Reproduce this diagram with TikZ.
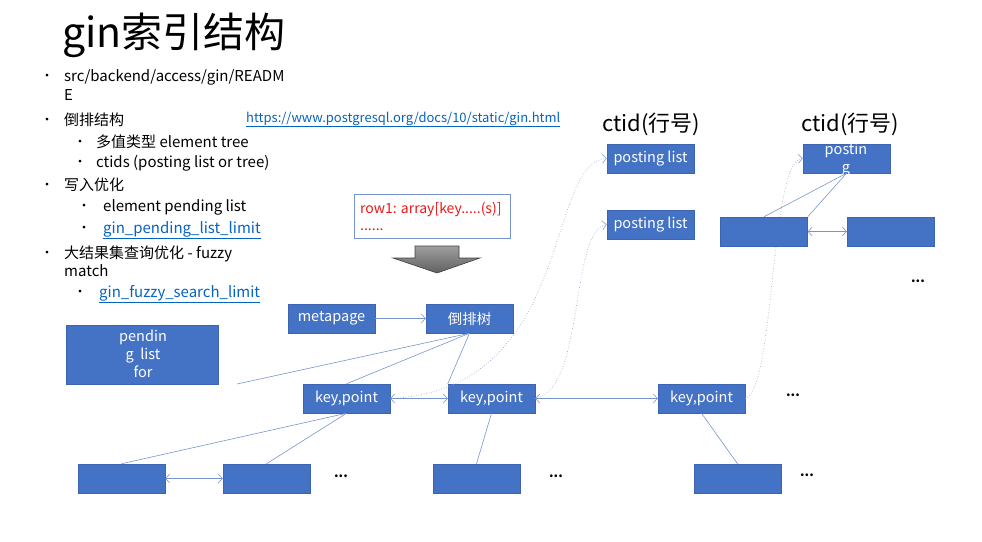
\documentclass[tikz,border=0pt]{standalone}
\usepackage{fontspec}
\setmainfont{Noto Sans CJK SC}
\usetikzlibrary{arrows.meta,positioning,calc}
\definecolor{boxblue}{RGB}{68,114,196}
\definecolor{boxedge}{RGB}{60,100,176}
\definecolor{lineblue}{RGB}{120,148,206}
\definecolor{dotblue}{RGB}{150,168,206}
\definecolor{linkblue}{RGB}{5,99,193}
\definecolor{rowred}{RGB}{235,25,25}
\newcommand{\lnk}[1]{\textcolor{linkblue}{\underline{#1}}}
\tikzset{
  flow/.style={line width=0.6pt,draw=lineblue,>={Straight Barb[length=4pt,width=9pt]}},
  blk/.style={draw=boxedge,fill=boxblue,text=white,minimum width=87pt,minimum height=29pt,
    inner sep=0pt,line width=0.5pt,font=\fontsize{14.5}{17}\selectfont},
  ref/.style={flow,dotted,draw=dotblue,line width=0.7pt},
  txt/.style={anchor=base west,inner sep=0pt,font=\fontsize{15}{18}\selectfont},
  bul/.style={inner sep=0pt,font=\fontsize{13}{14}\selectfont},
  etc/.style={inner sep=0pt,font=\fontsize{13}{14}\selectfont\bfseries},
  hdr/.style={inner sep=0pt,font=\fontsize{22}{24}\selectfont},
}

\begin{document}
\begin{tikzpicture}[x=1pt,y=-1pt]
\useasboundingbox (0,0) rectangle (982,541);
% title and notes
\node[anchor=west,inner sep=0pt,font=\fontsize{41}{44}\selectfont] (title) at (62,35) {gin索引结构};
\foreach \bx/\by/\nm in {47/77/u1,47/121/u2,80/143/u3,80/163/u4,47/186/u5,84/207/u6,84/229/u7,47/254/u8,80/293/u9}
  \node[bul] (\nm) at (\bx,\by) {•};
\node[txt] (t1) at (64,81) {src/backend/access/gin/READM};
\node[txt] (t1b) at (64,100) {E};
\node[txt] (t2) at (64,125) {倒排结构};
\node[txt] (t3) at (96,147) {多值类型 element tree};
\node[txt] (t4) at (96,167) {ctids (posting list or tree)};
\node[txt] (t5) at (64,190) {写入优化};
\node[txt] (t6) at (103,211) {element pending list};
\node[txt] (t7) at (103,233) {\lnk{gin\_pending\_list\_limit}};
\node[txt] (t8) at (64,258) {大结果集查询优化 - fuzzy};
\node[txt] (t9) at (64,276) {match};
\node[txt] (t10) at (99,297) {\lnk{gin\_fuzzy\_search\_limit}};
\node[txt,font=\fontsize{13}{16}\selectfont] (url) at (246,122) {\lnk{https://www.postgresql.org/docs/10/static/gin.html}};
% input row and arrow
\node[draw=lineblue,line width=0.6pt,fill=white,anchor=north west,minimum width=156pt,minimum height=44pt,inner sep=0pt] (rowbox) at (354,194) {};
\node[txt,text=rowred,font=\fontsize{14}{16}\selectfont] (row1) at (360,213) {row1: array[key.....(s)]};
\node[txt,text=rowred,font=\fontsize{14}{16}\selectfont] (row2) at (360,230) {......};
\shadedraw[top color=black!38,bottom color=black!62,draw=black!75,line width=0.6pt]
  (415,246) -- (459,246) -- (459,258) -- (480,258) -- (437,273) -- (393,258) -- (415,258) -- cycle;
% ctid side
\node[hdr] (ctid1) at (651,124) {ctid(行号)};
\node[hdr] (ctid2) at (850,124) {ctid(行号)};
\node[blk] (pl1) at (650.5,158.5) {posting list};
\node[blk] (pl2) at (650.5,224.5) {posting list};
\node[blk] (pl3) at (846.5,158.5) {};
\node[inner sep=0pt,align=center,text=white,font=\fontsize{14.5}{18}\selectfont] (pl3txt) at (846,160) {postin\\g};
% index tree
\node[blk] (meta) at (331.5,318.5) {metapage};
\node[blk] (tree) at (469.5,318.5) {倒排树};
\node[blk,minimum width=152pt,minimum height=59pt] (pend) at (142,354.5) {};
\node[inner sep=0pt,align=center,text=white,font=\fontsize{14.5}{18}\selectfont] (pendtxt) at (143,354) {pendin\\g\ \ list\\for};
\node[blk] (kp1) at (346.5,398.5) {key,point};
\node[blk] (kp2) at (491.5,398.5) {key,point};
\node[blk] (kp3) at (701.5,398.5) {key,point};
\coordinate (pendend) at (237,384);
% dotted ctid references (drawn under the boxes)
\draw[ref,->] (kp1.east) .. controls (575,390) and (545,162) .. (pl1.west);
\draw[ref,->] (kp2.east) .. controls (585,390) and (570,230) .. (pl2.west);
\draw[ref,->] (kp3.east) .. controls (775,390) and (770,160) .. (pl3.west);
\node[blk] (ba) at (764,231.5) {};
\node[blk] (bb) at (890.5,231.5) {};
\node[blk] (b1) at (121.5,478.5) {};
\node[blk] (b2) at (266.5,478.5) {};
\node[blk] (b3) at (476.5,478.5) {};
\node[blk] (b4) at (737.5,478.5) {};
\node[etc] (e1) at (918,281) {...};
\node[etc] (e2) at (793,395) {...};
\node[etc] (e3) at (341,476) {...};
\node[etc] (e4) at (556,476) {...};
\node[etc] (e5) at (807,475) {...};
% links
\draw[flow,->] (meta) -- (tree);
\foreach \t in {pendend,kp1.north,kp2.north west} \draw[flow] (tree.south) -- (\t);
\foreach \a/\b in {kp1/kp2,kp2/kp3,b1/b2,ba/bb} \draw[flow,<->] (\a) -- (\b);
\foreach \a/\b in {kp1/b1,kp1/b2,kp2/b3,kp3/b4,pl3/ba} \draw[flow] (\a.south) -- (\b.north);
\draw[flow] (pl3.south) -- (ba.north east);
\end{tikzpicture}
\end{document}
